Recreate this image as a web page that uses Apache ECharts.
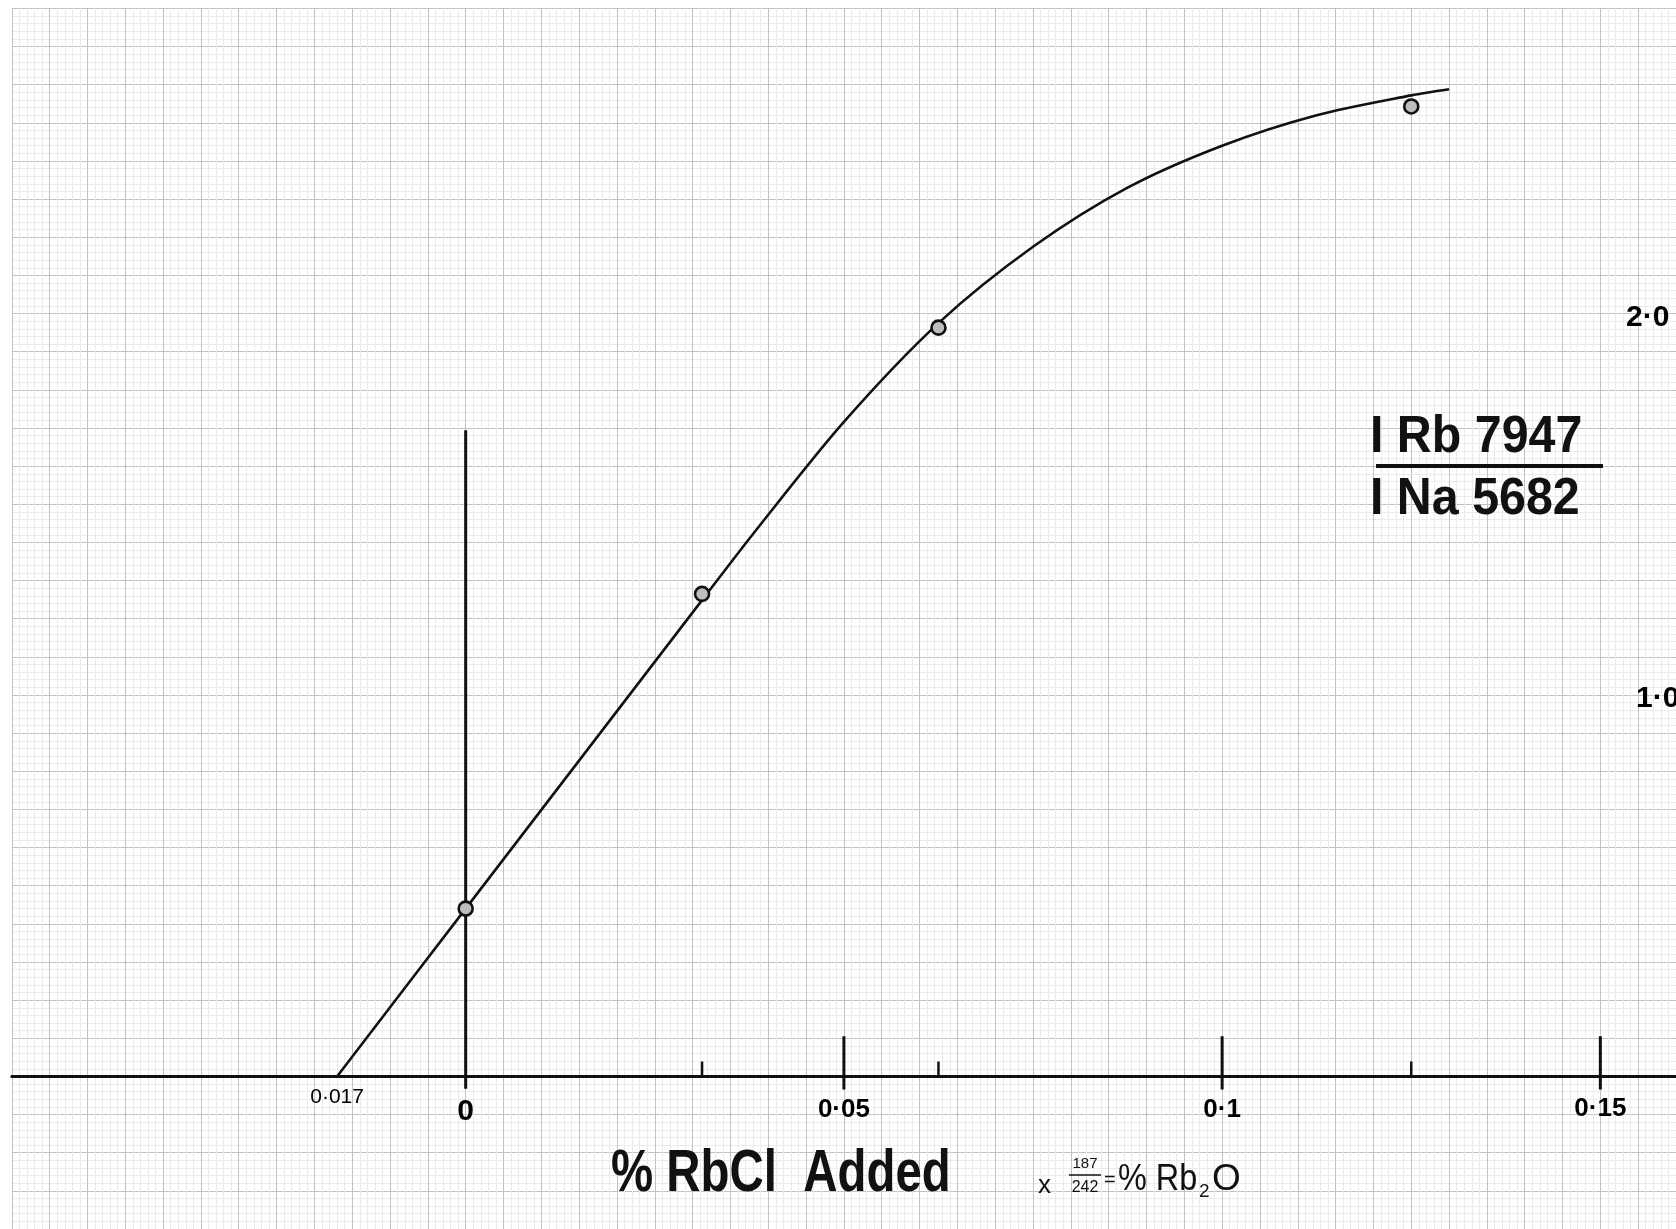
<!DOCTYPE html>
<html><head><meta charset="utf-8">
<script src="https://cdn.jsdelivr.net/npm/echarts@6/dist/echarts.min.js"></script>
<style>html,body{margin:0;padding:0;background:#fff}#c{width:1676px;height:1229px}</style>
</head><body><div id="c"></div>
<script>
// ---- data ----
const curveX = [-0.017, 0, 0.0313, 0.0383, 0.05, 0.0625, 0.075, 0.0875, 0.1, 0.1125, 0.125, 0.13];
const curveY = [0, 0.44, 1.25, 1.43, 1.716, 1.975, 2.175, 2.33, 2.44, 2.52, 2.572, 2.588];
const pointX = [0, 0.03125, 0.0625, 0.125];
const pointY = [0.44, 1.265, 1.963, 2.543];
const majorTickX = [0.05, 0.1, 0.15];
const minorTickX = [0.03125, 0.0625, 0.125];
const tickLabelX = [-0.017, 0, 0.05, 0.1, 0.15];
const tickLabels = ['0·017', '0', '0·05', '0·1', '0·15'];
const yLabelValues = [2.0, 1.0];
const yLabels = ['2·0', '1·0'];
const zeroLine = [-0.032, 1.694];
const majorTickSpan = [-0.034, 0.105];
const minorTickSpan = [0, 0.039];
const xRange = [-0.06, 0.16];
const yRange = [-0.4, 2.8];

// ---- styles ----
const INK = '#111';
const tickLabelStyle = [
  {fontSize: 21, dy: 21, fontWeight: 'normal'},
  {fontSize: 30, dy: 35, fontWeight: 'bold'},
  {fontSize: 26, dy: 33, fontWeight: 'bold'},
  {fontSize: 26, dy: 33, fontWeight: 'bold'},
  {fontSize: 26, dy: 32, fontWeight: 'bold'}
];
const yLabelDx = [-50, -40];

const chart = echarts.init(document.getElementById('c'), null, {renderer: 'canvas'});

const tickSeries = [];
majorTickX.forEach(x => tickSeries.push({
  type: 'line', silent: true, symbol: 'none', z: 4,
  data: [[x, majorTickSpan[0]], [x, majorTickSpan[1]]],
  lineStyle: {color: INK, width: 3}
}));
minorTickX.forEach(x => tickSeries.push({
  type: 'line', silent: true, symbol: 'none', z: 4,
  data: [[x, minorTickSpan[0]], [x, minorTickSpan[1]]],
  lineStyle: {color: INK, width: 2.5}
}));

const font = 'Liberation Sans';

const option = {
  backgroundColor: '#ffffff',
  animation: false,
  grid: {left: 11.8, top: 8.4, width: 1665.4, height: 1222.4, containLabel: false},
  xAxis: {
    type: 'value', min: xRange[0], max: xRange[1], interval: 0.005,
    axisLine: {show: true, onZero: true, lineStyle: {color: INK, width: 3}},
    axisTick: {show: false}, axisLabel: {show: false},
    splitLine: {show: true, lineStyle: {color: '#c2c2c2', width: 1}},
    minorTick: {show: false, splitNumber: 5},
    minorSplitLine: {show: true, lineStyle: {color: '#ebebeb', width: 1}}
  },
  yAxis: {
    type: 'value', min: yRange[0], max: yRange[1], interval: 0.1,
    axisLine: {show: false}, axisTick: {show: false}, axisLabel: {show: false},
    splitLine: {show: true, lineStyle: {color: '#c2c2c2', width: 1}},
    minorTick: {show: false, splitNumber: 5},
    minorSplitLine: {show: true, lineStyle: {color: '#ebebeb', width: 1}}
  },
  series: [
    {
      type: 'line', name: 'zero', silent: true, symbol: 'none', z: 4,
      data: [[0, zeroLine[0]], [0, zeroLine[1]]],
      lineStyle: {color: INK, width: 3}
    },
    ...tickSeries,
    {
      type: 'line', name: 'curve', smooth: 0.3, symbol: 'none', z: 5,
      data: curveX.map((x, i) => [x, curveY[i]]),
      lineStyle: {color: INK, width: 2.6}
    },
    {
      type: 'scatter', name: 'points', z: 6, symbol: 'circle', symbolSize: 14,
      data: pointX.map((x, i) => [x, pointY[i]]),
      itemStyle: {color: '#bdbdbd', borderColor: '#111', borderWidth: 2.6, opacity: 1}
    },
    {
      type: 'scatter', name: 'xlabels', z: 7, symbolSize: 0, silent: true,
      itemStyle: {opacity: 1},
      data: tickLabelX.map((x, i) => ({
        value: [x, 0],
        label: {
          show: true, position: 'inside', formatter: tickLabels[i],
          offset: [0, tickLabelStyle[i].dy],
          fontSize: tickLabelStyle[i].fontSize, fontWeight: tickLabelStyle[i].fontWeight,
          fontFamily: font, color: '#000'
        }
      }))
    },
    {
      type: 'scatter', name: 'ylabels', z: 7, symbolSize: 0, silent: true,
      itemStyle: {opacity: 1},
      data: yLabelValues.map((v, i) => ({
        value: [xRange[1], v],
        label: {
          show: true, position: 'inside', formatter: yLabels[i], align: 'left',
          offset: [yLabelDx[i], 4],
          fontSize: 30, fontWeight: 'bold', fontFamily: font, color: '#000'
        }
      }))
    }
  ],
  graphic: [
    {type: 'text', x: 1370, y: 438, scaleX: 0.93, originX: 0, z: 10,
     style: {text: 'I Rb 7947', font: 'bold 52px "Liberation Sans"', fill: INK, verticalAlign: 'middle', align: 'left'}},
    {type: 'line', z: 10, shape: {x1: 1376, y1: 466, x2: 1603, y2: 466}, style: {stroke: INK, lineWidth: 4}},
    {type: 'text', x: 1370, y: 500, scaleX: 0.93, originX: 0, z: 10,
     style: {text: 'I Na 5682', font: 'bold 52px "Liberation Sans"', fill: INK, verticalAlign: 'middle', align: 'left'}},
    {type: 'text', x: 611, y: 1174, scaleX: 0.79, originX: 0, z: 10,
     style: {text: '% RbCl  Added', font: 'bold 60px "Liberation Sans"', fill: INK, verticalAlign: 'middle', align: 'left'}},
    {type: 'text', x: 1038, y: 1186, z: 10,
     style: {text: 'x', font: '26px "Liberation Sans"', fill: INK, verticalAlign: 'middle', align: 'left'}},
    {type: 'text', x: 1085, y: 1164, z: 10,
     style: {text: '187', font: '15px "Liberation Sans"', fill: INK, verticalAlign: 'middle', align: 'center'}},
    {type: 'line', z: 10, shape: {x1: 1069, y1: 1175, x2: 1101, y2: 1175}, style: {stroke: INK, lineWidth: 1.5}},
    {type: 'text', x: 1085, y: 1188, z: 10,
     style: {text: '242', font: '16px "Liberation Sans"', fill: INK, verticalAlign: 'middle', align: 'center'}},
    {type: 'text', x: 1104, y: 1180, z: 10,
     style: {text: '=', font: '20px "Liberation Sans"', fill: INK, verticalAlign: 'middle', align: 'left'}},
    {type: 'text', x: 1118, y: 1180, scaleX: 0.9, originX: 0, z: 10,
     style: {text: '% Rb', font: '36px "Liberation Sans"', fill: INK, verticalAlign: 'middle', align: 'left'}},
    {type: 'text', x: 1199, y: 1192, z: 10,
     style: {text: '2', font: '19px "Liberation Sans"', fill: INK, verticalAlign: 'middle', align: 'left'}},
    {type: 'text', x: 1212, y: 1180, z: 10,
     style: {text: 'O', font: '37px "Liberation Sans"', fill: INK, verticalAlign: 'middle', align: 'left'}}
  ]
};
chart.setOption(option);
</script>
</body></html>
